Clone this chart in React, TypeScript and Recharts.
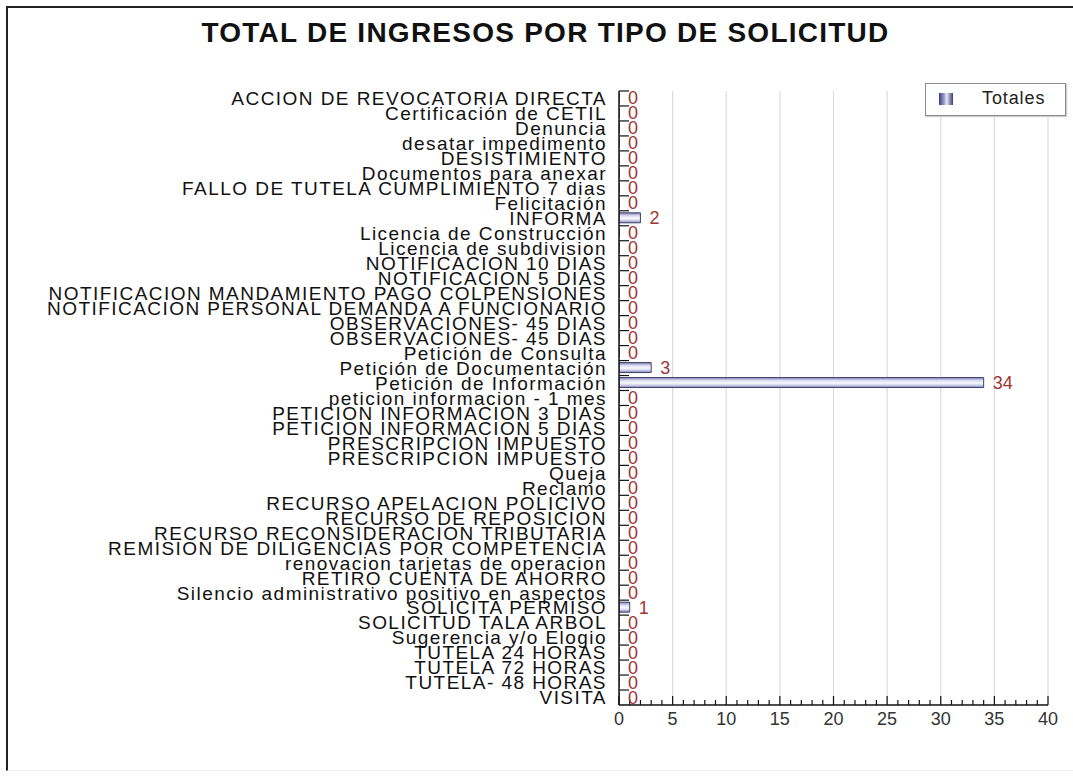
import React from 'react';
import { BarChart, Bar, XAxis, YAxis, CartesianGrid, LabelList } from 'recharts';

const categories: string[] = [
  'ACCION DE REVOCATORIA DIRECTA',
  'Certificación de CETIL',
  'Denuncia',
  'desatar impedimento',
  'DESISTIMIENTO',
  'Documentos para anexar',
  'FALLO DE TUTELA CUMPLIMIENTO 7 dias',
  'Felicitación',
  'INFORMA',
  'Licencia de Construcción',
  'Licencia de subdivision',
  'NOTIFICACION 10 DIAS',
  'NOTIFICACION 5 DIAS',
  'NOTIFICACION MANDAMIENTO PAGO COLPENSIONES',
  'NOTIFICACION PERSONAL DEMANDA A FUNCIONARIO',
  'OBSERVACIONES- 45 DIAS',
  'OBSERVACIONES- 45 DIAS',
  'Petición de Consulta',
  'Petición de Documentación',
  'Petición de Información',
  'peticion informacion - 1 mes',
  'PETICION INFORMACION 3 DIAS',
  'PETICION INFORMACION 5 DIAS',
  'PRESCRIPCION IMPUESTO',
  'PRESCRIPCION IMPUESTO',
  'Queja',
  'Reclamo',
  'RECURSO APELACION POLICIVO',
  'RECURSO DE REPOSICION',
  'RECURSO RECONSIDERACION TRIBUTARIA',
  'REMISION DE DILIGENCIAS POR COMPETENCIA',
  'renovacion tarjetas de operacion',
  'RETIRO CUENTA DE AHORRO',
  'Silencio administrativo positivo en aspectos',
  'SOLICITA PERMISO',
  'SOLICITUD TALA ARBOL',
  'Sugerencia y/o Elogio',
  'TUTELA 24 HORAS',
  'TUTELA 72 HORAS',
  'TUTELA- 48 HORAS',
  'VISITA',
];

const totales: number[] = [
  0, 0, 0, 0, 0, 0, 0, 0, 2, 0,
  0, 0, 0, 0, 0, 0, 0, 0, 3, 34,
  0, 0, 0, 0, 0, 0, 0, 0, 0, 0,
  0, 0, 0, 0, 1, 0, 0, 0, 0, 0,
  0,
];

const xTicks: number[] = Array.from({ length: 41 }, (_, i) => i);
const gridValues: number[] = [5, 10, 15, 20, 25, 30, 35, 40];

const title = 'TOTAL DE INGRESOS POR TIPO DE SOLICITUD';
const seriesName = 'Totales';

const data = categories.map((name, i) => ({ idx: i, name, value: totales[i] }));

const FONT = '"Liberation Sans", Arial, sans-serif';

const YTick = (props: any) => {
  const { x, y, payload } = props;
  const label = categories[payload.value];
  return (
    <g>
      <line x1={x} x2={x + 10} y1={y - 7.5} y2={y - 7.5} stroke="#111" strokeWidth={1.2} />
      <text
        x={x - 12}
        y={y}
        dy="0.36em"
        textAnchor="end"
        fontFamily={FONT}
        fontSize={19}
        letterSpacing={1.45}
        fill="#111"
      >
        {label}
      </text>
    </g>
  );
};

const XTick = (props: any) => {
  const { x, y, payload } = props;
  const v = payload.value as number;
  const major = v % 5 === 0;
  return (
    <g>
      <line x1={x} x2={x} y1={y} y2={y - (major ? 9 : 5)} stroke="#111" strokeWidth={1.2} />
      {major && (
        <text x={x} y={y + 14} dy="0.36em" textAnchor="middle" fontFamily={FONT} fontSize={18} fill="#333">
          {v}
        </text>
      )}
    </g>
  );
};

const ValueLabel = (props: any) => {
  const { x, y, width, height, value } = props;
  return (
    <text
      x={x + width + 9}
      y={y + height / 2}
      dy="0.36em"
      textAnchor="start"
      fontFamily={FONT}
      fontSize={18}
      fill="#a03535"
    >
      {value}
    </text>
  );
};

export default function App() {
  return (
    <div
      style={{
        position: 'absolute',
        left: 0,
        top: 0,
        width: 1073,
        height: 776,
        background: '#fff',
        overflow: 'hidden',
      }}
    >
      <div
        style={{
          position: 'absolute',
          left: 6,
          top: 6,
          width: 1080,
          height: 762,
          borderLeft: '2px solid #222',
          borderTop: '2px solid #222',
          borderBottom: '1px solid #eee',
        }}
      />
      <div
        style={{
          position: 'absolute',
          left: 0,
          top: 17,
          width: 1091,
          textAlign: 'center',
          fontFamily: FONT,
          fontWeight: 'bold',
          fontSize: 28,
          letterSpacing: 1.25,
          color: '#111',
        }}
      >
        {title}
      </div>
      <BarChart
        width={1073}
        height={776}
        data={data}
        layout="vertical"
        margin={{ top: 91, right: 25, bottom: 41, left: 0 }}
        barCategoryGap={2.5}
      >
        <defs>
          <linearGradient id="barGrad" x1="0" y1="0" x2="0" y2="1">
            <stop offset="0%" stopColor="#7c7cb4" />
            <stop offset="30%" stopColor="#dcdcf2" />
            <stop offset="55%" stopColor="#f8f8ff" />
            <stop offset="75%" stopColor="#d4d4ee" />
            <stop offset="100%" stopColor="#7c7cb4" />
          </linearGradient>
        </defs>
        <CartesianGrid horizontal={false} verticalValues={gridValues} stroke="#dcdcdc" strokeWidth={1.2} />
        <XAxis
          type="number"
          domain={[0, 40]}
          ticks={xTicks}
          interval={0}
          tickSize={0}
          tickMargin={0}
          tick={<XTick />}
          tickLine={false}
          axisLine={{ stroke: '#111', strokeWidth: 1.5 }}
          height={30}
          allowDataOverflow
        />
        <YAxis
          type="category"
          dataKey="idx"
          width={619}
          interval={0}
          tickSize={0}
          tickMargin={0}
          tick={<YTick />}
          tickLine={false}
          axisLine={{ stroke: '#111', strokeWidth: 1.5 }}
        />
        <Bar
          dataKey="value"
          name={seriesName}
          fill="url(#barGrad)"
          stroke="#44446a"
          strokeWidth={1}
          barSize={10}
          minPointSize={0.01}
          isAnimationActive={false}
        >
          <LabelList dataKey="value" content={<ValueLabel />} />
        </Bar>
      </BarChart>
      <div
        style={{
          position: 'absolute',
          left: 925,
          top: 83,
          width: 139,
          height: 31,
          border: '1px solid #8a8a8a',
          background: '#fff',
          boxShadow: '1px 1px 1px #cfcfcf',
          fontFamily: FONT,
        }}
      >
        <div
          style={{
            position: 'absolute',
            left: 13,
            top: 9,
            width: 14,
            height: 12,
            background: 'linear-gradient(to right, #3c3c78 0%, #9898cc 35%, #e8e8f8 55%, #3c3c78 100%)',
          }}
        />
        <div style={{ position: 'absolute', left: 56, top: 4, fontSize: 18, letterSpacing: 0.9, color: '#222' }}>
          {seriesName}
        </div>
      </div>
    </div>
  );
}
